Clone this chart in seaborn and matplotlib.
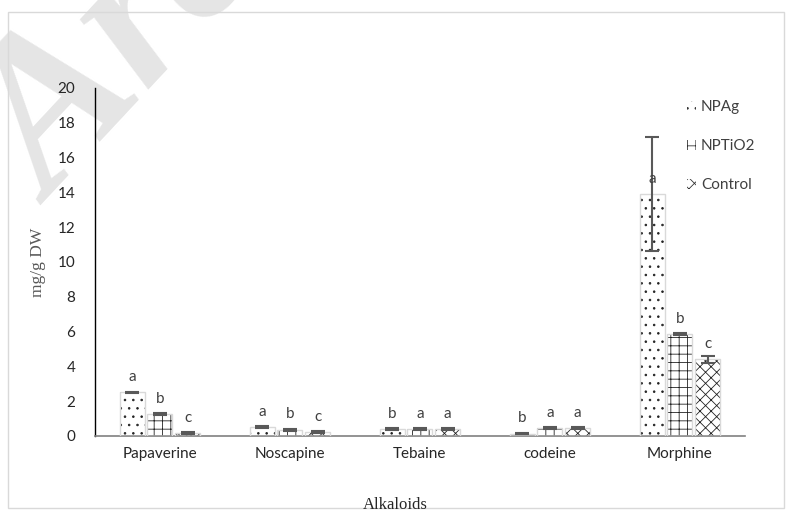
import matplotlib
matplotlib.use("Agg")
import matplotlib.pyplot as plt
from matplotlib.patches import Rectangle, Patch
import numpy as np
import pandas as pd
import seaborn as sns

# Alkaloid content (mg/g DW) per treatment
alkaloids = ["Papaverine", "Noscapine", "Tebaine", "codeine", "Morphine"]
treatments = ["NPAg", "NPTiO2", "Control"]
npag = [2.5, 0.5, 0.4, 0.12, 13.9]
nptio2 = [1.26, 0.35, 0.4, 0.45, 5.85]
control = [0.17, 0.23, 0.4, 0.45, 4.4]
err_npag = [0.05, 0.04, 0.04, 0.03, 3.3]
err_nptio2 = [0.05, 0.07, 0.04, 0.08, 0.08]
err_control = [0.05, 0.05, 0.05, 0.05, 0.2]
letters_npag = ["a", "a", "b", "b", "a"]
letters_nptio2 = ["b", "b", "a", "a", "b"]
letters_control = ["c", "c", "a", "a", "c"]
y_ticks = [0, 2, 4, 6, 8, 10, 12, 14, 16, 18, 20]

values = {"NPAg": npag, "NPTiO2": nptio2, "Control": control}
errors = {"NPAg": err_npag, "NPTiO2": err_nptio2, "Control": err_control}
letters = {"NPAg": letters_npag, "NPTiO2": letters_nptio2, "Control": letters_control}
hatches = {"NPAg": "..", "NPTiO2": "++", "Control": "xxx"}

df = pd.DataFrame(
    [(a, t, values[t][i]) for t in treatments for i, a in enumerate(alkaloids)],
    columns=["Alkaloid", "Treatment", "Value"],
)

sns.set_style("white")
plt.rcParams["font.family"] = ["Lato", "DejaVu Sans"]
plt.rcParams["hatch.linewidth"] = 0.6

fig = plt.figure(figsize=(7.9, 5.14), dpi=100)

# Watermark
fig.text(0.065, 0.60, "Arc", family=["Liberation Serif"], style="italic",
         fontweight="bold", fontsize=155, color="#e5e5e5", rotation=47,
         rotation_mode="anchor", ha="left", va="baseline", zorder=-1)

ax = fig.add_axes([0.120, 0.152, 0.823, 0.677])
ax.patch.set_alpha(0)

sns.barplot(
    data=df, x="Alkaloid", y="Value", hue="Treatment", order=alkaloids,
    hue_order=treatments, errorbar=None, width=0.64, gap=0.1,
    palette=["white"] * 3, ax=ax, legend=False, zorder=2,
)

# Style bars, then add error bars and significance letters
for t, container in zip(treatments, ax.containers):
    for i, bar in enumerate(container):
        bar.set_facecolor("white")
        bar.set_edgecolor("#222222")
        bar.set_linewidth(0)
        bar.set_hatch(hatches[t])
        x0, w, h = bar.get_x(), bar.get_width(), bar.get_height()
        ax.add_patch(Rectangle((x0, 0), w, h, fill=False, edgecolor="#d9d9d9",
                               linewidth=1.0, zorder=3))
        xc = x0 + w / 2
        ax.errorbar(xc, h, yerr=errors[t][i], color="#595959", elinewidth=1.5,
                    capsize=5, capthick=1.5, zorder=4)
        ax.annotate(letters[t][i], (xc, h), xytext=(0, 6), textcoords="offset points",
                    ha="center", va="bottom", fontsize=11, color="#404040", zorder=5)

ax.set_ylim(0, 20)
ax.set_yticks(y_ticks)
ax.set_xlim(-0.5, len(alkaloids) - 0.5)
ax.tick_params(axis="both", length=0, labelsize=11, colors="#262626")
ax.tick_params(axis="y", pad=14)
ax.tick_params(axis="x", pad=8)
for s in ["top", "right"]:
    ax.spines[s].set_visible(False)
ax.spines["left"].set_color("black")
ax.spines["left"].set_linewidth(1.0)
ax.spines["bottom"].set_color("#808080")
ax.spines["bottom"].set_linewidth(1.2)

ax.set_xlabel("")
ax.set_ylabel("mg/g DW", family=["Liberation Serif"], fontsize=12.5, color="#595959", labelpad=8)
fig.text(0.50, 0.002, "Alkaloids", family=["Liberation Serif"], fontsize=12,
         color="#262626", ha="center", va="bottom")

handles = [Patch(facecolor="white", edgecolor="#333333", linewidth=0, hatch=hatches[t])
           for t in treatments]
leg = ax.legend(handles, treatments, loc="upper left", bbox_to_anchor=(0.89, 1.005),
                frameon=False, fontsize=11, labelspacing=1.65, handlelength=0.6,
                handleheight=0.6, handletextpad=0.3)
for txt in leg.get_texts():
    txt.set_color("#404040")

# Outer frame
fig.patches.append(Rectangle((0.010, 0.012), 0.983, 0.965, transform=fig.transFigure,
                             fill=False, edgecolor="#d9d9d9", linewidth=1.0))

fig.savefig("out.png", dpi=100)
